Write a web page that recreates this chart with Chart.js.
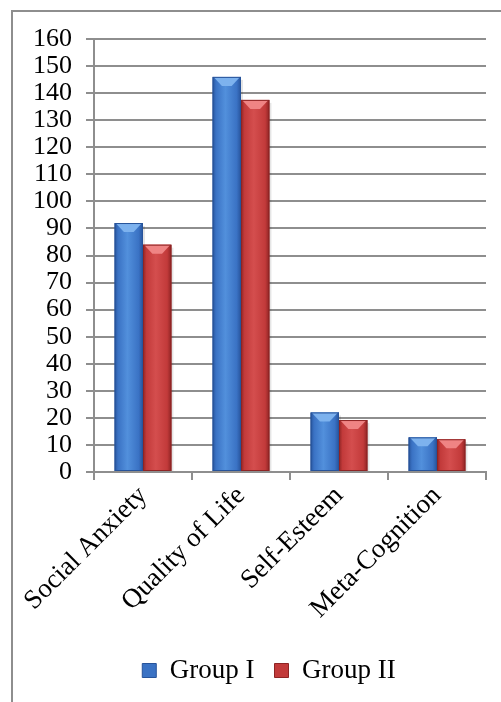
<!DOCTYPE html>
<html>
<head>
<meta charset="utf-8">
<script src="https://cdn.jsdelivr.net/npm/chart.js@4/dist/chart.umd.min.js"></script>
<style>
  html, body { margin: 0; padding: 0; background: #fff; }
  #frame { position: absolute; left: 11px; top: 10px; width: 600px; height: 800px; border: 2px solid #8e8e8e; }
  #chart { position: absolute; left: 0; top: 0; }
</style>
</head>
<body>
<div id="frame"></div>
<canvas id="chart" width="501" height="702"></canvas>
<script>
const categories = ['Social Anxiety', 'Quality of Life', 'Self-Esteem', 'Meta-Cognition'];
const group1 = [92, 146, 22, 12.8];
const group2 = [84, 137.5, 19.2, 12.1];
const seriesNames = ['Group I', 'Group II'];

// colour sets for the bevelled bars: edge, body, highlight, top face
const palettes = [
  { edge: '#27539a', body: '#3a72c4', light: '#5290dc', top: '#7db2ee' },
  { edge: '#8e2424', body: '#c23a3a', light: '#d44e4e', top: '#ef8484' }
];

const bevel = {
  id: 'bevel',
  afterDatasetsDraw(chart) {
    const ctx = chart.ctx;
    chart.data.datasets.forEach((ds, i) => {
      const pal = palettes[i];
      chart.getDatasetMeta(i).data.forEach(bar => {
        const p = bar.getProps(['x', 'y', 'base', 'width'], true);
        const l = p.x - p.width / 2, r = p.x + p.width / 2, t = p.y, b = p.base, w = p.width;
        ctx.save();
        // soft shadow
        ctx.fillStyle = 'rgba(0,0,0,0.10)';
        ctx.fillRect(r, t + 3, 2, b - t - 3);
        // body
        const g = ctx.createLinearGradient(l, 0, r, 0);
        g.addColorStop(0, pal.edge);
        g.addColorStop(0.12, pal.body);
        g.addColorStop(0.45, pal.light);
        g.addColorStop(0.85, pal.body);
        g.addColorStop(1, pal.edge);
        ctx.fillStyle = g;
        ctx.fillRect(l, t, w, b - t);
        // top face
        const d = Math.min(9, (b - t) / 2);
        ctx.beginPath();
        ctx.moveTo(l + 1, t);
        ctx.lineTo(r - 1, t);
        ctx.lineTo(r - w * 0.33, t + d);
        ctx.lineTo(l + w * 0.33, t + d);
        ctx.closePath();
        ctx.fillStyle = pal.top;
        ctx.fill();
        ctx.strokeStyle = pal.edge;
        ctx.lineWidth = 1;
        ctx.strokeRect(l + 0.5, t + 0.5, w - 1, b - t - 1);
        ctx.restore();
      });
    });
  }
};

// the legend sits a little right of centre in the original
const legendShift = {
  id: 'legendShift',
  afterLayout(chart) {
    chart.legend.left += 26;
    chart.legend.right += 26;
  }
};

const serif = 'Liberation Serif';

new Chart(document.getElementById('chart'), {
  type: 'bar',
  data: {
    labels: categories,
    datasets: [
      { label: seriesNames[0], data: group1, backgroundColor: palettes[0].body, borderColor: palettes[0].edge, borderWidth: 1 },
      { label: seriesNames[1], data: group2, backgroundColor: palettes[1].body, borderColor: palettes[1].edge, borderWidth: 1 }
    ]
  },
  options: {
    responsive: false,
    animation: false,
    datasets: { bar: { categoryPercentage: 0.58, barPercentage: 1 } },
    layout: { padding: { left: 0, right: 15, top: 39, bottom: 8 } },
    plugins: {
      tooltip: { enabled: false },
      legend: {
        position: 'bottom',
        labels: {
          font: { family: serif, size: 27 },
          color: '#000',
          boxWidth: 14,
          boxHeight: 14,
          padding: 20
        }
      }
    },
    scales: {
      x: {
        grid: { offset: true, drawOnChartArea: false, drawTicks: true, tickLength: 8, color: '#8e8e8e', lineWidth: 2 },
        border: { color: '#8e8e8e', width: 2 },
        ticks: { font: { family: serif, size: 27 }, color: '#000', minRotation: 45, maxRotation: 45, padding: 0 },
        afterFit: s => { s.height = 165; }
      },
      y: {
        min: 0,
        max: 160,
        ticks: { stepSize: 10, autoSkip: false, font: { family: serif, size: 26 }, color: '#000', padding: 14 },
        grid: { color: '#8e8e8e', lineWidth: 2, tickLength: 8 },
        border: { color: '#8e8e8e', width: 2 },
        afterFit: s => { s.width = 94; }
      }
    }
  },
  plugins: [bevel, legendShift]
});
</script>
</body>
</html>
